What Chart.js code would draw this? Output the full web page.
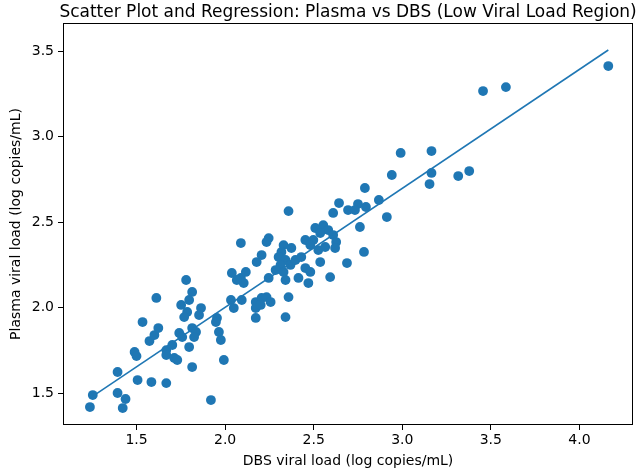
<!DOCTYPE html>
<html>
<head>
<meta charset="utf-8">
<script src="https://cdn.jsdelivr.net/npm/chart.js@4.4.1/dist/chart.umd.min.js"></script>
<style>
  body { margin: 0; background: #fff; }
</style>
</head>
<body>
<canvas id="grafico" width="638" height="472"></canvas>
<script>
// Datos (log copies/mL)
var dbs = [
  1.237, 1.253, 1.393, 1.393, 1.422, 1.438, 1.489, 1.500, 1.506, 1.534, 1.573, 1.601, 1.623, 1.584, 1.612, 1.668, 1.668, 1.668, 1.702, 1.713, 1.730,
  1.797, 1.741, 1.758, 1.814, 1.836, 1.825, 1.780, 1.752, 1.786, 1.769, 1.814, 1.797, 1.864, 1.853, 1.954, 1.948, 1.965, 1.976, 1.814, 1.920, 1.993,
  2.038, 2.089, 2.117, 2.105, 2.066, 2.089, 2.033, 2.094, 2.049, 2.173, 2.206, 2.234, 2.257, 2.173, 2.201, 2.173, 2.246, 2.234, 2.206, 2.178, 2.246, 2.341, 2.358,
  2.341, 2.414, 2.470, 2.453, 2.481, 2.537, 2.330, 2.374, 2.318, 2.302, 2.341, 2.369, 2.313, 2.285, 2.330, 2.397, 2.430, 2.358,
  2.453, 2.498, 2.481, 2.526, 2.554, 2.509, 2.582, 2.610, 2.627, 2.537, 2.565, 2.621, 2.593, 2.643, 2.610, 2.694, 2.750, 2.795, 2.733,
  2.868, 2.789, 2.761, 2.688, 2.784, 2.913, 2.941, 2.991, 3.165, 3.165, 3.154, 3.316, 3.378, 3.456, 3.585, 4.163
];
var plasma = [
  1.418, 1.488, 1.500, 1.623, 1.412, 1.465, 1.740, 1.716, 1.576, 1.915, 1.804, 1.839, 1.880, 1.564, 2.056, 1.558, 1.751, 1.722, 1.781, 1.705, 1.693,
  1.769, 1.851, 1.827, 1.880, 1.857, 1.827, 2.161, 2.015, 1.974, 1.944, 2.091, 2.044, 1.997, 1.956, 1.939, 1.915, 1.857, 1.810, 1.652, 1.459, 1.693,
  2.202, 2.173, 2.208, 2.143, 2.161, 2.377, 2.044, 2.044, 1.997, 2.032, 2.056, 2.061, 2.032, 1.997, 2.015, 1.939, 2.406, 2.383, 2.307, 2.266, 2.173, 1.944, 2.061,
  2.161, 2.173, 2.143, 2.231, 2.208, 2.266, 2.365, 2.348, 2.325, 2.295, 2.278, 2.249, 2.249, 2.219, 2.208, 2.278, 2.295, 2.564,
  2.395, 2.395, 2.365, 2.336, 2.482, 2.465, 2.453, 2.424, 2.383, 2.436, 2.354, 2.348, 2.178, 2.611, 2.553, 2.570, 2.605, 2.588, 2.570,
  2.629, 2.699, 2.471, 2.260, 2.325, 2.529, 2.775, 2.904, 2.915, 2.787, 2.722, 2.769, 2.798, 3.266, 3.289, 3.412
];
// Recta de regresión (extremos leídos)
var lineaX = [1.237, 4.163];
var lineaY = [1.47, 3.506];

var xTicks = [1.5, 2.0, 2.5, 3.0, 3.5, 4.0];
var yTicks = [1.5, 2.0, 2.5, 3.0, 3.5];

var titulo = 'Scatter Plot and Regression: Plasma vs DBS (Low Viral Load Region)';
var tituloX = 'DBS viral load (log copies/mL)';
var tituloY = 'Plasma viral load (log copies/mL)';

var azul = '#1f77b4';
var fuente = 'DejaVu Sans';

var puntos = dbs.map(function (x, i) { return { x: x, y: plasma[i] }; });
var linea = lineaX.map(function (x, i) { return { x: x, y: lineaY[i] }; });

// Marco completo y título centrado sobre el área del gráfico
var marco = {
    id: 'marco',
    afterDraw: function (chart) {
        var ctx = chart.ctx, a = chart.chartArea;
        ctx.save();
        ctx.strokeStyle = '#000';
        ctx.lineWidth = 1;
        ctx.strokeRect(Math.round(a.left) + 0.5, Math.round(a.top) + 0.5,
            Math.round(a.right - a.left) - 1, Math.round(a.bottom - a.top) - 1);
        ctx.fillStyle = '#000';
        ctx.font = '17px "' + fuente + '"';
        ctx.textAlign = 'center';
        ctx.textBaseline = 'middle';
        ctx.fillText(titulo, (a.left + a.right) / 2, 13);
        ctx.restore();
    }
};

function fijarTicks(valores) {
    return function (scale) {
        scale.ticks = valores.map(function (v) { return { value: v }; });
    };
}

var ctx = document.getElementById('grafico').getContext('2d');
new Chart(ctx, {
    type: 'scatter',
    data: {
        datasets: [{
            label: 'Datos',
            data: puntos,
            backgroundColor: azul,
            borderWidth: 0,
            pointRadius: 4.9,
            order: 2
        }, {
            type: 'line',
            label: 'Regresión',
            data: linea,
            borderColor: azul,
            borderWidth: 1.6,
            pointRadius: 0,
            fill: false,
            order: 1
        }]
    },
    options: {
        responsive: false,
        animation: false,
        layout: { padding: { top: 23, right: 1, left: 0, bottom: 0 } },
        plugins: {
            legend: { display: false },
            title: { display: false },
            tooltip: { enabled: false }
        },
        scales: {
            x: {
                type: 'linear',
                min: 1.085,
                max: 4.303,
                afterBuildTicks: fijarTicks(xTicks),
                afterFit: function (s) { s.height = 47; },
                grid: { drawOnChartArea: false, drawTicks: true, tickLength: 5, color: '#000' },
                border: { display: false },
                ticks: {
                    color: '#000',
                    padding: 2,
                    maxRotation: 0,
                    font: { family: fuente, size: 14 },
                    callback: function (v) { return v.toFixed(1); }
                },
                title: {
                    display: true,
                    text: tituloX,
                    color: '#000',
                    font: { family: fuente, size: 14 },
                    padding: { top: 0, bottom: 2 }
                }
            },
            y: {
                type: 'linear',
                min: 1.313,
                max: 3.664,
                afterBuildTicks: fijarTicks(yTicks),
                afterFit: function (s) { s.width = 63; },
                grid: { drawOnChartArea: false, drawTicks: true, tickLength: 5, color: '#000' },
                border: { display: false },
                ticks: {
                    color: '#000',
                    padding: 4,
                    font: { family: fuente, size: 14 },
                    callback: function (v) { return v.toFixed(1); }
                },
                title: {
                    display: true,
                    text: tituloY,
                    color: '#000',
                    font: { family: fuente, size: 14 },
                    padding: { top: 8, bottom: 0 }
                }
            }
        }
    },
    plugins: [marco]
});
</script>
</body>
</html>
